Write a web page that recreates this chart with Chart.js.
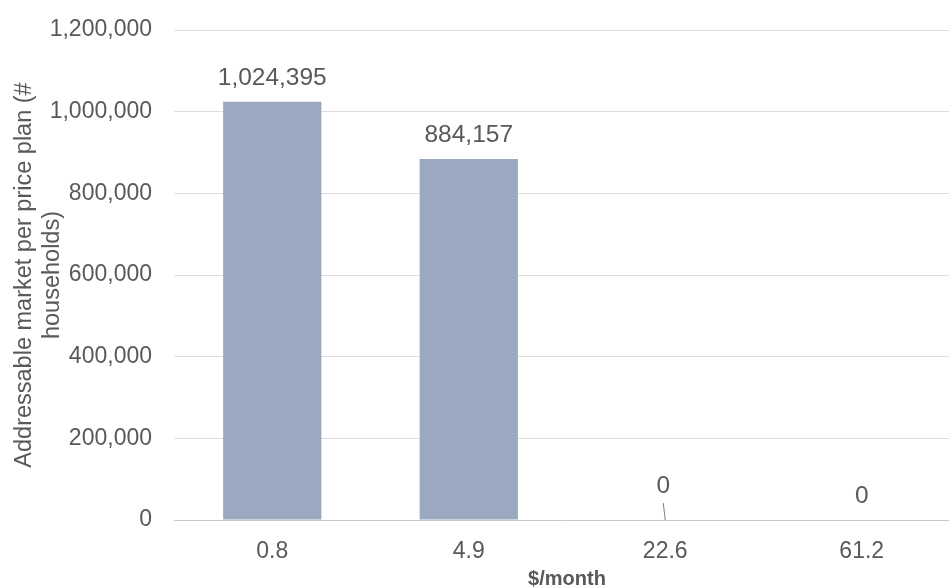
<!DOCTYPE html>
<html>
<head>
<meta charset="utf-8">
<script src="https://cdn.jsdelivr.net/npm/chart.js@4/dist/chart.umd.min.js"></script>
<style>
  html, body { margin: 0; padding: 0; background: #ffffff; overflow: hidden; }
  #wrap { position: absolute; left: 0; top: 0; width: 960px; height: 600px; }
</style>
</head>
<body>
<div id="wrap"><canvas id="chart"></canvas></div>
<script>
// Price plans ($/month) and the households each plan can reach
const categories = ['0.8', '4.9', '22.6', '61.2'];
const households = [1024395, 884157, 0, 0];
const yTickValues = [0, 200000, 400000, 600000, 800000, 1000000, 1200000];

const yTitle = ['Addressable market per price plan (#', 'households)'];
const xTitle = '$/month';

const FONT = '"Liberation Sans", Arial, sans-serif';
const TEXT = '#595959';

// Value labels above each bar; a nudged label gets a short leader line back to its bar
const valueLabels = {
  id: 'valueLabels',
  afterDatasetsDraw(chart, args, opts) {
    const { ctx } = chart;
    const meta = chart.getDatasetMeta(0);
    const values = chart.data.datasets[0].data;
    ctx.save();
    ctx.font = opts.size + 'px ' + FONT;
    ctx.fillStyle = TEXT;
    ctx.textAlign = 'center';
    ctx.textBaseline = 'alphabetic';
    meta.data.forEach((bar, i) => {
      const nudge = (opts.nudge && opts.nudge[i]) || { dx: 0, dy: 0 };
      const x = bar.x + nudge.dx;
      const y = bar.y - opts.gap + nudge.dy;
      ctx.fillText(values[i].toLocaleString('en-US'), x, y);
      if (nudge.dy) {
        ctx.beginPath();
        ctx.strokeStyle = '#7f7f7f';
        ctx.lineWidth = 1;
        ctx.moveTo(x, y + 10);
        ctx.lineTo(bar.x, bar.y);
        ctx.stroke();
      }
    });
    ctx.restore();
  }
};

new Chart(document.getElementById('chart'), {
  type: 'bar',
  data: {
    labels: categories,
    datasets: [{
      data: households,
      backgroundColor: '#9aa9bf',
      borderWidth: 0,
      categoryPercentage: 1.0,
      barPercentage: 0.5
    }]
  },
  options: {
    responsive: true,
    maintainAspectRatio: false,
    animation: false,
    events: [],
    layout: { padding: { top: 30, right: 0, bottom: 0, left: 0 } },
    plugins: {
      legend: { display: false },
      tooltip: { enabled: false },
      valueLabels: { size: 24.5, gap: 17, nudge: { 2: { dx: -2, dy: -10 } } }
    },
    scales: {
      x: {
        grid: { display: false, drawTicks: false },
        border: { display: true, color: '#c9c9c9', width: 1 },
        ticks: { color: TEXT, font: { family: FONT, size: 23 }, padding: 18 },
        title: {
          display: true,
          text: xTitle,
          color: TEXT,
          font: { family: FONT, size: 20, weight: 'bold', lineHeight: 1.2 },
          padding: { top: 0, bottom: 9 }
        },
        afterFit(scale) { scale.height = 80; }
      },
      y: {
        min: 0,
        max: 1200000,
        grid: { color: '#dedede', lineWidth: 1, drawTicks: false },
        border: { display: false },
        ticks: {
          color: TEXT,
          font: { family: FONT, size: 23, lineHeight: 0.6 },
          padding: 22,
          callback: v => v.toLocaleString('en-US')
        },
        afterBuildTicks(scale) { scale.ticks = yTickValues.map(v => ({ value: v })); },
        title: {
          display: true,
          text: yTitle,
          color: TEXT,
          font: { family: FONT, size: 23.5, lineHeight: 1.2 },
          padding: { top: 10, bottom: 0 }
        },
        afterFit(scale) { scale.width = 174; }
      }
    }
  },
  plugins: [valueLabels]
});
</script>
</body>
</html>
